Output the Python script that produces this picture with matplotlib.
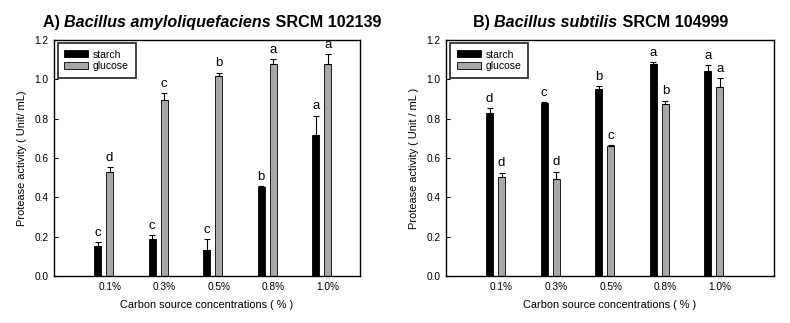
import numpy as np
import matplotlib
matplotlib.use("Agg")
import matplotlib.pyplot as plt

plt.rcParams['font.family'] = ['Liberation Sans', 'DejaVu Sans']

concentrations = ['0.1%', '0.3%', '0.5%', '0.8%', '1.0%']

# A) B. amyloliquefaciens SRCM 102139
amy_starch = [0.153, 0.188, 0.132, 0.453, 0.717]
amy_starch_err = [0.018, 0.019, 0.054, 0.004, 0.098]
amy_glucose = [0.527, 0.895, 1.019, 1.076, 1.076]
amy_glucose_err = [0.026, 0.034, 0.015, 0.027, 0.051]
amy_starch_grp = ['c', 'c', 'c', 'b', 'a']
amy_glucose_grp = ['d', 'c', 'b', 'a', 'a']

# B) B. subtilis SRCM 104999
sub_starch = [0.831, 0.878, 0.949, 1.076, 1.042]
sub_starch_err = [0.022, 0.005, 0.015, 0.010, 0.029]
sub_glucose = [0.502, 0.492, 0.661, 0.875, 0.959]
sub_glucose_err = [0.023, 0.037, 0.003, 0.015, 0.046]
sub_starch_grp = ['d', 'c', 'b', 'a', 'a']
sub_glucose_grp = ['d', 'd', 'c', 'b', 'a']

W, H = 790, 323
fig = plt.figure(figsize=(W / 100, H / 100), dpi=100)


def px_axes(x0, x1, y0, y1):
    return fig.add_axes([x0 / W, 1 - y1 / H, (x1 - x0) / W, (y1 - y0) / H])


def draw_panel(ax, starch, s_err, glucose, g_err, s_grp, g_grp, xlim, ylabel):
    x = np.arange(len(concentrations))
    off, bw = 0.11, 0.13
    ekw = dict(elinewidth=0.8, capthick=0.8, ecolor='black')
    ax.bar(x - off, starch, bw, color='black', edgecolor='black', lw=0.6,
           yerr=[np.zeros(len(x)), s_err], capsize=2.2, error_kw=ekw, label='starch')
    ax.bar(x + off, glucose, bw, color='#a8a8a8', edgecolor='black', lw=0.6,
           yerr=[np.zeros(len(x)), g_err], capsize=2.2, error_kw=ekw, label='glucose')
    for xi, v, e, g in zip(x - off, starch, s_err, s_grp):
        ax.annotate(g, (xi, v + e), xytext=(0, 2.5), textcoords='offset points',
                    ha='center', va='bottom', fontsize=9.5)
    for xi, v, e, g in zip(x + off, glucose, g_err, g_grp):
        ax.annotate(g, (xi, v + e), xytext=(0, 2.5), textcoords='offset points',
                    ha='center', va='bottom', fontsize=9.5)

    ax.set_xlim(*xlim)
    ax.set_ylim(0, 1.2)
    ax.set_yticks(np.arange(0, 1.21, 0.2))
    ax.yaxis.set_major_formatter(matplotlib.ticker.FormatStrFormatter('%.1f'))
    # category labels sit under the glucose bar of each group
    ax.set_xticks(x + off)
    ax.set_xticklabels(concentrations)
    ax.tick_params(axis='x', length=0, pad=4, labelsize=7.3)
    ax.tick_params(axis='y', direction='in', length=3, width=0.8, pad=4, labelsize=7.3)
    for sp in ax.spines.values():
        sp.set_linewidth(1.0)
    ax.set_xlabel('Carbon source concentrations ( % )', fontsize=7.9, labelpad=6)
    ax.set_ylabel(ylabel, fontsize=7.9, labelpad=5)
    leg = ax.legend(loc='upper left', bbox_to_anchor=(0.012, 0.988), borderaxespad=0,
                    fontsize=7.5, handlelength=2.3, handleheight=0.65, handletextpad=0.45,
                    labelspacing=0.15, borderpad=0.65, fancybox=False, framealpha=1)
    leg.get_frame().set_edgecolor('#333333')
    leg.get_frame().set_linewidth(1.3)


ax1 = px_axes(54, 360, 40, 276)
draw_panel(ax1, amy_starch, amy_starch_err, amy_glucose, amy_glucose_err,
           amy_starch_grp, amy_glucose_grp, (-0.91, 4.70), 'Protease activity ( Unit/ mL)')

ax2 = px_axes(446, 774, 40, 276)
draw_panel(ax2, sub_starch, sub_starch_err, sub_glucose, sub_glucose_err,
           sub_starch_grp, sub_glucose_grp, (-0.907, 5.10), 'Protease activity ( Unit / mL )')


def mixed_title(parts, xc, y_base):
    # lay the title out piece by piece so the species name can be italic
    renderer = fig.canvas.get_renderer()
    texts = []
    for s, style in parts:
        t = fig.text(0, y_base, s, fontsize=11.6, fontweight='bold', style=style,
                     va='baseline', ha='left')
        texts.append(t)
    widths = [t.get_window_extent(renderer).width for t in texts]
    x = xc - sum(widths) / 2
    for t, w in zip(texts, widths):
        t.set_x(x / W)
        x += w


mixed_title([('A) ', 'normal'), ('Bacillus amyloliquefaciens', 'italic'),
             (' SRCM 102139', 'normal')], 212, 1 - 26.7 / H)
mixed_title([('B) ', 'normal'), ('Bacillus subtilis', 'italic'),
             (' SRCM 104999', 'normal')], 600.5, 1 - 26.7 / H)

fig.savefig('out.png', dpi=100)
